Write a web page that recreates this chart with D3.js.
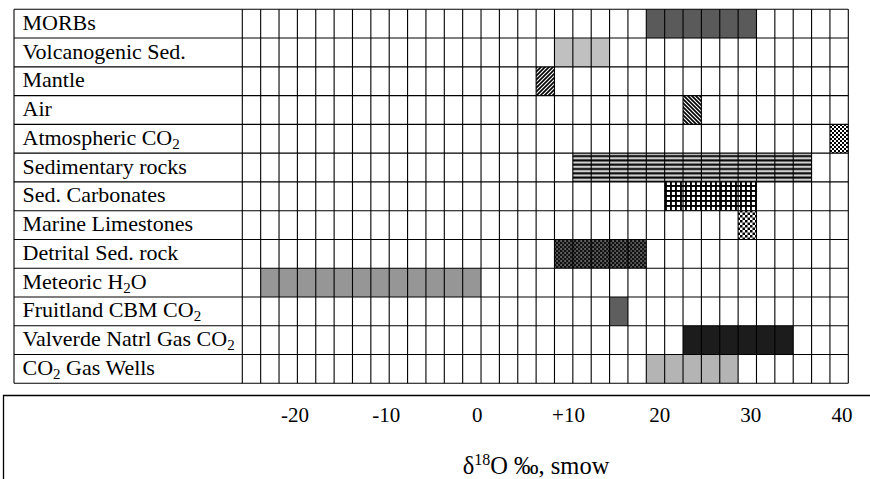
<!DOCTYPE html>
<html>
<head>
<meta charset="utf-8">
<script src="https://cdn.jsdelivr.net/npm/d3@7"></script>
<style>
  body { margin: 0; background: #fff; }
  text { font-family: "Liberation Serif", "Times New Roman", serif; fill: #000; }
</style>
</head>
<body>
<div id="chart"></div>
<script>
// Data
//-------------------------------------------------------
// source names; {2} marks a subscript
var sources = [
    "MORBs",
    "Volcanogenic Sed.",
    "Mantle",
    "Air",
    "Atmospheric CO{2}",
    "Sedimentary rocks",
    "Sed. Carbonates",
    "Marine Limestones",
    "Detrital Sed. rock",
    "Meteoric H{2}O",
    "Fruitland CBM CO{2}",
    "Valverde Natrl Gas CO{2}",
    "CO{2} Gas Wells"
];
// d18O range of each source (per mil, SMOW)
var rangeLow  = [18,  8, 6, 22, 38, 10, 20, 28,  8, -24, 14, 22, 18];
var rangeHigh = [30, 14, 8, 24, 40, 36, 30, 30, 18,   0, 16, 34, 28];

var tickValues = [-20, -10, 0, 10, 20, 30, 40];
var tickLabels = ["-20", "-10", "0", "+10", "20", "30", "40"];

// fill for each row (colours or pattern ids)
var rowFills = ["#5a5a5a", "#c0c0c0", "url(#p-mantle)", "url(#p-air)", "url(#p-check)",
    "url(#p-hlines)", "url(#p-grid)", "url(#p-dots)", "url(#p-dark)",
    "#969696", "#5e5e5e", "#1c1c1c", "#b4b4b4"];

// SVG
//-------------------------------------------------------
var svgWidth = 870;
var svgHeight = 479;

var table = { left: 14, labelRight: 242.3, right: 848.3, top: 9.3, bottom: 383.3 };

var svg = d3.select("#chart")
    .append("svg")
    .attr("width", svgWidth)
    .attr("height", svgHeight);

// Patterns
var defs = svg.append("defs");

function pattern(id, w, h) {
    return defs.append("pattern")
        .attr("id", id)
        .attr("patternUnits", "userSpaceOnUse")
        .attr("width", w)
        .attr("height", h);
}

var p = pattern("p-mantle", 4, 4);
p.append("rect").attr("width", 4).attr("height", 4).attr("fill", "#fff");
p.append("path").attr("d", "M-1,1L1,-1M0,4L4,0M3,5L5,3").attr("stroke", "#000").attr("stroke-width", 1.7);

p = pattern("p-air", 4, 4);
p.append("rect").attr("width", 4).attr("height", 4).attr("fill", "#fff");
p.append("path").attr("d", "M-1,3L1,5M0,0L4,4M3,-1L5,1").attr("stroke", "#000").attr("stroke-width", 1.7);

p = pattern("p-check", 4, 4);
p.append("rect").attr("width", 4).attr("height", 4).attr("fill", "#fff");
p.append("rect").attr("width", 2).attr("height", 2).attr("fill", "#000");
p.append("rect").attr("x", 2).attr("y", 2).attr("width", 2).attr("height", 2).attr("fill", "#000");

p = pattern("p-hlines", 6, 4.3);
p.append("rect").attr("width", 6).attr("height", 4.3).attr("fill", "#cfcfcf");
p.append("rect").attr("y", 0.3).attr("width", 6).attr("height", 2).attr("fill", "#000");

p = pattern("p-grid", 5, 5);
p.append("rect").attr("width", 5).attr("height", 5).attr("fill", "#fff");
p.append("rect").attr("width", 1.9).attr("height", 5).attr("fill", "#000");
p.append("rect").attr("width", 5).attr("height", 1.9).attr("fill", "#000");

p = pattern("p-dots", 5, 5);
p.append("rect").attr("width", 5).attr("height", 5).attr("fill", "#fff");
p.append("rect").attr("width", 2.5).attr("height", 2.5).attr("fill", "#000");
p.append("rect").attr("x", 2.5).attr("y", 2.5).attr("width", 2.5).attr("height", 2.5).attr("fill", "#000");

p = pattern("p-dark", 4, 4);
p.append("rect").attr("width", 4).attr("height", 4).attr("fill", "#111");
p.append("rect").attr("x", 0.5).attr("y", 0.5).attr("width", 1.2).attr("height", 1).attr("fill", "#fff");
p.append("rect").attr("x", 2.5).attr("y", 2.5).attr("width", 1.2).attr("height", 1).attr("fill", "#ccc");

// Scales
//-------------------------------------------------------
var xScale = d3.scaleLinear()
    .domain([-26, 40])
    .range([table.labelRight, table.right]);

var yScale = d3.scaleBand()
    .domain(d3.range(sources.length))
    .range([table.top, table.bottom]);

// tick labels sit in their own box under the table
var tickScale = d3.scaleLinear()
    .domain([-20, 40])
    .range([295, 842]);

// Bars
//-------------------------------------------------------
svg.append("g").selectAll("rect")
    .data(sources)
    .enter()
    .append("rect")
    .attr("x", (d, i) => xScale(rangeLow[i]))
    .attr("y", (d, i) => yScale(i))
    .attr("width", (d, i) => xScale(rangeHigh[i]) - xScale(rangeLow[i]))
    .attr("height", yScale.bandwidth())
    .attr("fill", (d, i) => rowFills[i]);

// Grid
//-------------------------------------------------------
var grid = svg.append("g")
    .attr("stroke", "#000")
    .attr("stroke-width", 1.1);

grid.selectAll("line.v")
    .data(d3.range(-26, 41, 2))
    .enter()
    .append("line")
    .attr("x1", d => xScale(d))
    .attr("x2", d => xScale(d))
    .attr("y1", table.top)
    .attr("y2", table.bottom);

grid.append("line")
    .attr("x1", table.left).attr("x2", table.left)
    .attr("y1", table.top).attr("y2", table.bottom);

grid.selectAll("line.h")
    .data(d3.range(sources.length + 1))
    .enter()
    .append("line")
    .attr("x1", table.left)
    .attr("x2", table.right)
    .attr("y1", d => table.top + d * yScale.step())
    .attr("y2", d => table.top + d * yScale.step());

// Row labels
//-------------------------------------------------------
var labels = svg.append("g")
    .attr("font-size", 22);

sources.forEach(function(name, i) {
    var t = labels.append("text")
        .attr("x", 22.5)
        .attr("y", yScale(i) + 20.5);
    var shift = 0;
    name.split(/(\{\d\})/).forEach(function(part) {
        if (part === "") return;
        var sub = part.match(/^\{(\d)\}$/);
        if (sub) {
            t.append("tspan").attr("font-size", 15).attr("dy", 4).text(sub[1]);
            shift = -4;
        } else {
            t.append("tspan").attr("dy", shift).text(part);
            shift = 0;
        }
    });
});

// Axis box
//-------------------------------------------------------
svg.append("path")
    .attr("d", "M3.5,479V395.5H870")
    .attr("fill", "none")
    .attr("stroke", "#000")
    .attr("stroke-width", 1.3);

svg.append("g").selectAll("text")
    .data(tickValues)
    .enter()
    .append("text")
    .attr("x", d => tickScale(d))
    .attr("y", 421.5)
    .attr("text-anchor", "middle")
    .attr("font-size", 21)
    .text((d, i) => tickLabels[i]);

var title = svg.append("text")
    .attr("x", 536)
    .attr("y", 474)
    .attr("text-anchor", "middle")
    .attr("font-size", 24.5);
title.append("tspan").text("\u03b4");
title.append("tspan").attr("font-size", 16).attr("dy", -9).text("18");
title.append("tspan").attr("dy", 9).text("O \u2030, smow");
</script>
</body>
</html>
